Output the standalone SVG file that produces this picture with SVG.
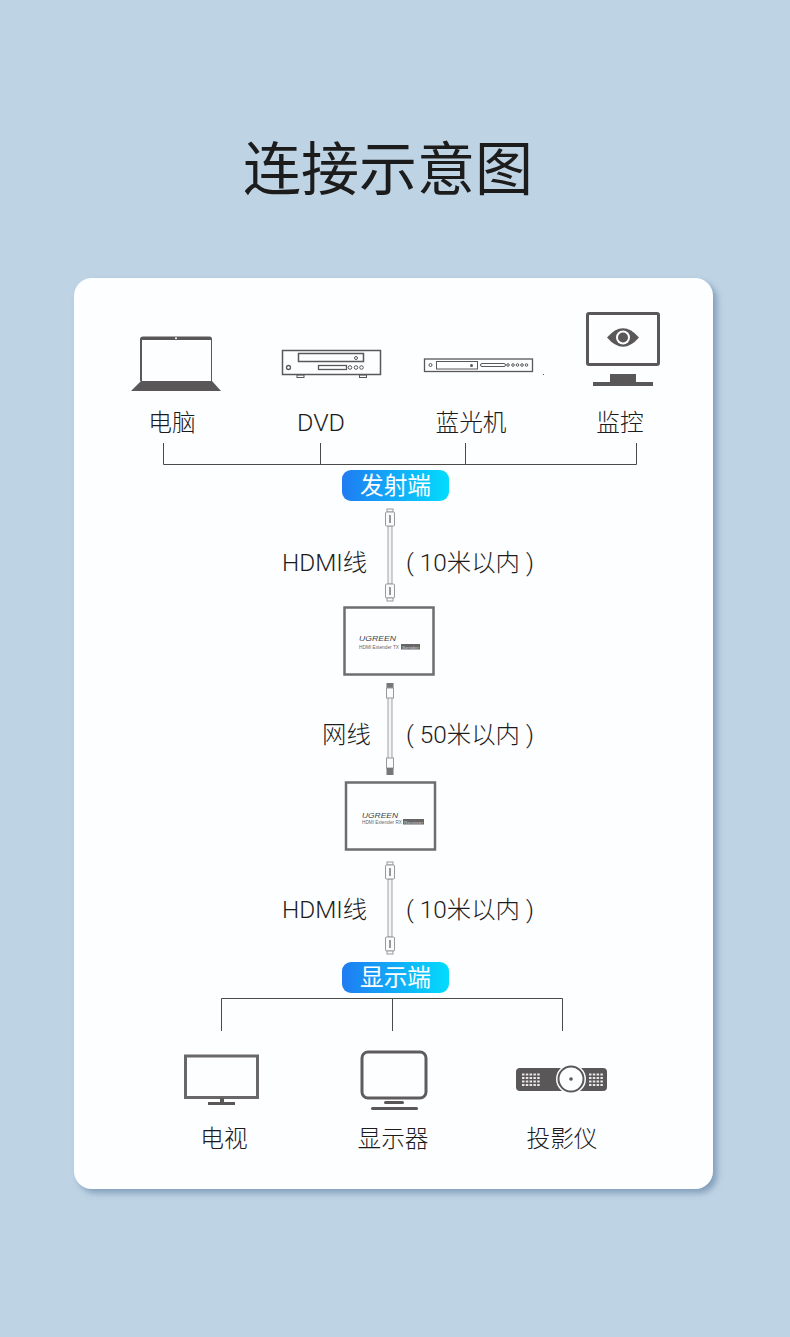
<svg xmlns="http://www.w3.org/2000/svg" width="790" height="1337" viewBox="0 0 790 1337">
<style>
text{font-family:Roboto,"Noto Sans CJK SC","Noto Sans",sans-serif;fill:#1c1c1c}
.t{font-size:23.700px;text-anchor:middle;font-weight:300}
.c{font-size:24.400px;font-weight:300}
.b{font-size:23.700px;fill:#fff;text-anchor:middle}
.ln{fill:none;stroke:#4a4a4a;stroke-width:1}
.ic{fill:#5a5758}
.ol{fill:none;stroke:#5a5758}
.w{fill:#fdfeff}
.box{fill:#fdfeff;stroke:#6e6e6e;stroke-width:2.500}
.cab{fill:#fbfbfb;stroke:#999;stroke-width:1}
.u{font-family:"Liberation Sans",sans-serif;font-size:8px;font-style:italic;fill:#444}
.m{font-family:"Liberation Sans",sans-serif;font-size:5px;fill:#666}
.s{font-family:"Liberation Sans",sans-serif;font-size:4px;fill:#ccc}
</style>
<defs>
<linearGradient id="g" x1="0" x2="1" y1="0" y2="0"><stop offset="0" stop-color="#1f7cf2"/><stop offset="1" stop-color="#03dcfd"/></linearGradient>
<filter id="sh" x="-5%" y="-5%" width="110%" height="110%"><feDropShadow dx="4" dy="4" stdDeviation="3" flood-color="#6d8cab" flood-opacity=".75"/></filter>
<g id="hdmi">
<rect x="-2" y="16" width="4" height="58" fill="#f4f4f4" stroke="#a0a0a0"/>
<rect x="-3" y="-1" width="6" height="3" class="cab"/>
<rect x="-4.500" y="2" width="9" height="14" rx="1" class="cab"/>
<rect x="-4.500" y="74" width="9" height="14" rx="1" class="cab"/>
<rect x="-3" y="88" width="6" height="3" class="cab"/>
<rect x="-1" y="5" width="2" height="8" fill="#999"/>
<rect x="-1" y="77" width="2" height="8" fill="#999"/>
</g>
<g id="net">
<rect x="-2" y="14" width="4" height="62" fill="#f4f4f4" stroke="#a0a0a0"/>
<rect x="-3.500" y="0" width="7" height="5" fill="#777"/>
<rect x="-3.500" y="5" width="7" height="10" class="cab"/>
<rect x="-3.500" y="75" width="7" height="10" class="cab"/>
<rect x="-3.500" y="85" width="7" height="7" fill="#777"/>
</g>
</defs>
<rect width="790" height="1337" fill="#bed3e4"/>
<text x="388" y="190" font-size="58" text-anchor="middle" fill="#262a2e">连接示意图</text>
<rect x="74" y="278" width="639" height="911" rx="18" fill="#fdfeff" filter="url(#sh)"/>

<g id="connectors">
<path class="ln" d="M163.500 443V464.500H636.500V443M320.500 443V464.500M465.500 443V464.500"/>
<path class="ln" d="M221.500 1031V998.500H562.500V1031M392.500 998.500V1031"/>
</g>

<g id="laptop">
<path class="ic" d="M143 336.500H210Q212 336.500 212 339V381H140V339Q140 336.500 143 336.500Z"/>
<rect x="142" y="340" width="69" height="41" class="w"/>
<path class="ic" d="M141 381H212L221 391H131Z"/>
<circle cx="176" cy="338.300" r="1" fill="#fff"/>
<text class="t" x="172" y="431">电脑</text>
</g>
<g id="dvd">
<rect x="282.500" y="350.500" width="98" height="24" class="w" stroke="#5a5758" stroke-width="1.500"/>
<rect x="298.500" y="353.500" width="65" height="8" class="ol" stroke-width="1.500"/>
<circle cx="356" cy="358" r="1.500" class="ol"/>
<circle cx="288.500" cy="367.500" r="2" class="ol" stroke-width="1.300"/>
<rect x="318.500" y="365.500" width="28" height="4" class="ol" stroke-width="1.300"/>
<circle cx="350" cy="367.500" r="1.800" class="ol"/>
<circle cx="356" cy="367.500" r="1.800" class="ol"/>
<circle cx="361.500" cy="367.500" r="1.800" class="ol"/>
<rect x="297" y="375" width="7" height="2.500" class="ol"/>
<rect x="359.500" y="375" width="7" height="2.500" class="ol"/>
<text class="t" x="321" y="431" textLength="48" lengthAdjust="spacingAndGlyphs">DVD</text>
</g>
<g id="bluray">
<rect x="424.500" y="359" width="108" height="12.500" class="w" stroke="#5a5758" stroke-width="1.300"/>
<circle cx="430.500" cy="365" r="1.500" class="ol"/>
<rect x="436.500" y="361.500" width="41" height="7.500" class="ol"/>
<circle cx="471.500" cy="365.500" r="1.500" fill="#5a5758"/>
<rect x="480.500" y="363.500" width="25" height="3" rx="1.500" class="ol"/>
<circle cx="508" cy="365" r="1.300" class="ol"/>
<circle cx="513" cy="365" r="1.300" class="ol"/>
<circle cx="517.500" cy="365" r="1.300" class="ol"/>
<circle cx="522" cy="365" r="1.300" class="ol"/>
<circle cx="526.500" cy="365" r="1.300" class="ol"/>
<rect x="543" y="374" width="1" height="1" fill="#555"/>
<text class="t" x="471" y="431">蓝光机</text>
</g>
<g id="monitor">
<rect x="587.500" y="313.500" width="71" height="51" rx="1.500" class="w" stroke="#5a5758" stroke-width="3"/>
<path class="ic" d="M607 337.500Q623 319 639 337.500Q623 356 607 337.500Z"/>
<circle cx="623" cy="337.500" r="7" fill="#fff"/>
<circle cx="623" cy="337.500" r="5" fill="#5a5758"/>
<rect x="610" y="374" width="26" height="8" class="ic"/>
<rect x="593" y="382" width="60" height="4" class="ic"/>
<text class="t" x="620" y="431">监控</text>
</g>

<g id="tx-tag">
<rect x="342" y="470" width="107" height="31" rx="9" fill="url(#g)"/>
<text class="b" x="395.500" y="494">发射端</text>
</g>
<g id="cable1">
<use href="#hdmi" x="390" y="510"/>
<text class="c" x="282" y="570.500">HDMI线</text>
<text class="c" x="406" y="570.500">( 10米以内 )</text>
</g>
<g id="transmitter">
<rect x="344.500" y="607.500" width="89" height="67" class="box"/>
<text class="u" x="359" y="641" textLength="37" lengthAdjust="spacingAndGlyphs">UGREEN</text>
<text class="m" x="359" y="648.500" textLength="40" lengthAdjust="spacingAndGlyphs">HDMI Extender TX</text>
<rect x="401" y="644" width="19" height="5.500" fill="#666"/>
<text class="s" x="402" y="648.500" textLength="17" lengthAdjust="spacingAndGlyphs">Sender</text>
</g>
<g id="cable2">
<use href="#net" x="390" y="683"/>
<text class="c" x="322" y="742.500">网线</text>
<text class="c" x="406" y="742.500">( 50米以内 )</text>
</g>
<g id="receiver">
<rect x="346" y="782.500" width="89" height="67" class="box"/>
<text class="u" x="362" y="818" textLength="36" lengthAdjust="spacingAndGlyphs">UGREEN</text>
<text class="m" x="362" y="824" textLength="40" lengthAdjust="spacingAndGlyphs">HDMI Extender RX</text>
<rect x="403" y="819" width="21" height="5.500" fill="#666"/>
<text class="s" x="404" y="824" textLength="19" lengthAdjust="spacingAndGlyphs">Receiver</text>
</g>
<g id="cable3">
<use href="#hdmi" x="390" y="863"/>
<text class="c" x="282" y="917.500">HDMI线</text>
<text class="c" x="406" y="917.500">( 10米以内 )</text>
</g>
<g id="rx-tag">
<rect x="342" y="962" width="107" height="31" rx="9" fill="url(#g)"/>
<text class="b" x="395.500" y="986">显示端</text>
</g>

<g id="tv">
<rect x="185.500" y="1056" width="72" height="41.500" class="w" stroke="#6a6768" stroke-width="3"/>
<rect x="220" y="1098" width="4" height="5" class="ic"/>
<rect x="208" y="1102" width="27" height="3" class="ic"/>
<text class="t" x="224" y="1147">电视</text>
</g>
<g id="display">
<rect x="362" y="1052" width="64" height="46" rx="6" class="w" stroke="#5f5c5d" stroke-width="3"/>
<rect x="384" y="1101" width="20" height="3" rx="1.500" class="ic"/>
<rect x="371" y="1107" width="47" height="3" rx="1.500" class="ic"/>
<text class="t" x="393" y="1147">显示器</text>
</g>
<g id="projector">
<rect x="516" y="1068" width="91" height="23" rx="4" class="ic"/>
<circle cx="571" cy="1079" r="15" class="w"/>
<circle cx="571" cy="1079" r="12.500" fill="none" stroke="#5a5758" stroke-width="2"/>
<circle cx="571" cy="1079" r="1.800" class="ic"/>
<path d="M522 1074.500H541M522 1078H541M522 1081.500H541M522 1085H541M589 1074.500H604M589 1078H604M589 1081.500H604M589 1085H604" stroke="#e8e8e8" stroke-width="2" stroke-dasharray="2.500 1.300"/>
<text class="t" x="562" y="1147">投影仪</text>
</g>
</svg>
